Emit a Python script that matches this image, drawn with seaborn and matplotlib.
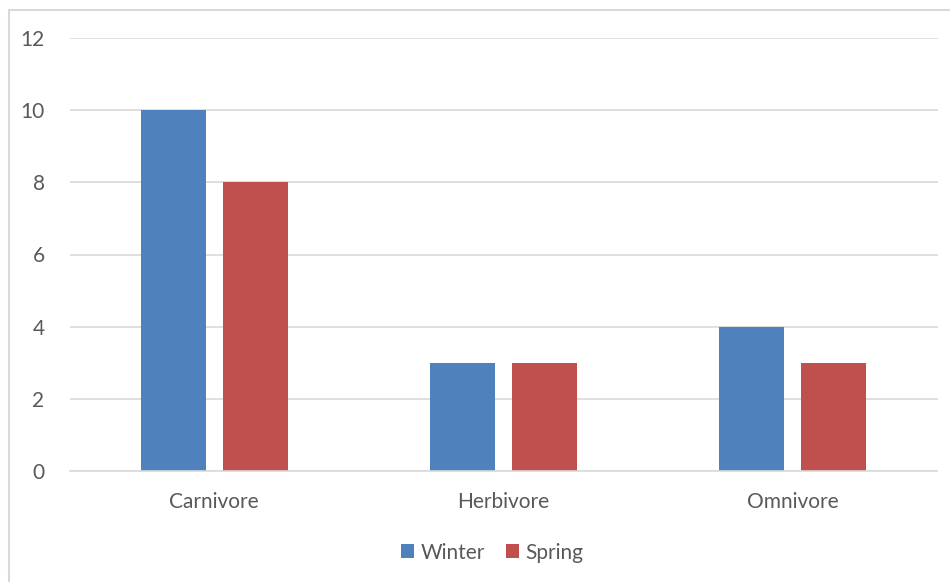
import matplotlib
matplotlib.use("Agg")
import matplotlib.pyplot as plt
from matplotlib.lines import Line2D
import seaborn as sns
import pandas as pd

categories = ["Carnivore", "Herbivore", "Omnivore"]
winter = [10, 3, 4]
spring = [8, 3, 3]
seasons = ["Winter", "Spring"]
colors = ["#4F81BD", "#C0504D"]

df = pd.DataFrame({
    "diet": categories * 2,
    "season": ["Winter"] * 3 + ["Spring"] * 3,
    "count": winter + spring,
})

sns.set_style("white")
plt.rcParams["font.family"] = ["Lato", "DejaVu Sans"]
text_color = "#595959"
grid_color = "#D9D9D9"

fig = plt.figure(figsize=(9.5, 5.82), dpi=100)
ax = fig.add_axes([69.5 / 950, 1 - 471 / 582, 868 / 950, 433 / 582])

sns.barplot(data=df, x="diet", y="count", hue="season", hue_order=seasons,
            palette=colors, width=0.567, gap=0.21, saturation=1, linewidth=0,
            ax=ax)

ax.set_ylim(0, 12)
ax.set_xlim(-0.5, 2.5)
ax.set_yticks(range(0, 13, 2))
ax.yaxis.grid(True, color=grid_color, linewidth=1.2)
ax.set_axisbelow(True)
for side in ["left", "right", "top"]:
    ax.spines[side].set_visible(False)
ax.spines["bottom"].set_color(grid_color)
ax.spines["bottom"].set_linewidth(1.2)
ax.tick_params(axis="both", length=0, labelsize=15, colors=text_color)
ax.tick_params(axis="y", pad=18)
ax.tick_params(axis="x", pad=15)
ax.set_xlabel("")
ax.set_ylabel("")

ax.legend(loc="upper center", bbox_to_anchor=(0.487, -0.122), ncol=2, frameon=False,
          fontsize=15, labelcolor=text_color, handlelength=0.65, handleheight=0.65,
          handletextpad=0.3, columnspacing=1.0)

# chart border (only left/top visible in the crop)
fig.add_artist(Line2D([9 / 950, 9 / 950], [0, 1 - 10 / 582], color=grid_color, lw=1.5,
                      transform=fig.transFigure))
fig.add_artist(Line2D([9 / 950, 1], [1 - 10 / 582, 1 - 10 / 582], color=grid_color, lw=1.5,
                      transform=fig.transFigure))

fig.savefig("out.png", dpi=100, facecolor="white")
